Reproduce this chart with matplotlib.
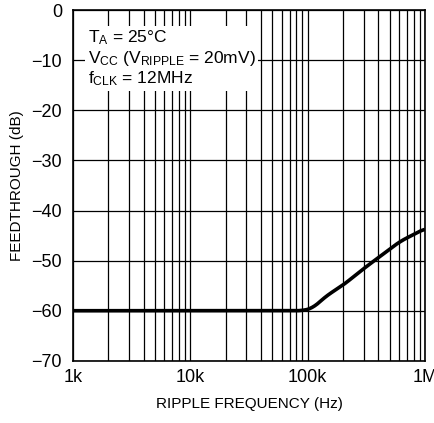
import matplotlib
matplotlib.use("Agg")
from matplotlib import pyplot as plt
from matplotlib.ticker import FixedLocator, NullFormatter
import numpy as np

# curve
freq = [1e3, 1e4, 5e4, 9e4, 1.1e5, 1.45e5, 2e5, 3e5, 3.9e5, 6.1e5, 1e6]
feed = [-60, -60, -60, -60, -59.5, -57.0, -54.9, -51.6, -49.6, -46.2, -43.6]

xticks = [1e3, 1e4, 1e5, 1e6]
xlabels = ["1k", "10k", "100k", "1M"]
yticks = [0, -10, -20, -30, -40, -50, -60, -70]
ylabels = ["0", "\u221210", "\u221220", "\u221230", "\u221240", "\u221250", "\u221260", "\u221270"]

plt.rcParams['font.family'] = ['Liberation Sans', 'DejaVu Sans']
plt.rcParams['mathtext.fontset'] = 'custom'
plt.rcParams['mathtext.rm'] = 'Liberation Sans'
plt.rcParams['mathtext.it'] = 'Liberation Sans'

fig = plt.figure(figsize=(4.35, 4.23), dpi=100)
ax = fig.add_axes([0.168, 0.147, 0.809, 0.829])

# smooth the read points in log space
lx = np.log10(freq)
xs = np.linspace(lx[0], lx[-1], 400)
ys = np.interp(xs, lx, feed)
k = 7
ys = np.convolve(np.pad(ys, k, mode='edge'), np.ones(2 * k + 1) / (2 * k + 1), mode='same')[k:-k]
ax.plot(10 ** xs, ys, color='black', lw=2.6, solid_capstyle='butt', zorder=3)

ax.set_xscale('log')
ax.set_xlim(1e3, 1e6)
ax.set_ylim(-70, 0)
ax.set_xticks(xticks)
ax.set_xticklabels(xlabels)
ax.xaxis.set_minor_locator(FixedLocator([m * 10 ** d for d in range(3, 6) for m in range(2, 10)]))
ax.xaxis.set_minor_formatter(NullFormatter())
ax.set_yticks(yticks)
ax.set_yticklabels(ylabels)
ax.grid(True, which='both', color='black', lw=0.9)
ax.tick_params(which='both', length=0, labelsize=13, pad=8)
ax.tick_params(axis='x', pad=6)
for s in ax.spines.values():
    s.set_linewidth(1.2)

ax.set_xlabel("RIPPLE FREQUENCY (Hz)", fontsize=11, labelpad=8)
ax.set_ylabel("FEEDTHROUGH (dB)", fontsize=11, labelpad=5)

txt = "T$_\\mathregular{A}$ = 25°C\nV$_\\mathregular{CC}$ (V$_\\mathregular{RIPPLE}$ = 20mV)\nf$_\\mathregular{CLK}$ = 12MHz"
ax.text(0.042, 0.948, txt, transform=ax.transAxes, fontsize=12.5, va='top', ha='left',
        linespacing=1.13, zorder=4,
        bbox=dict(facecolor='white', edgecolor='none', pad=2))

fig.savefig("out.png", dpi=100)
